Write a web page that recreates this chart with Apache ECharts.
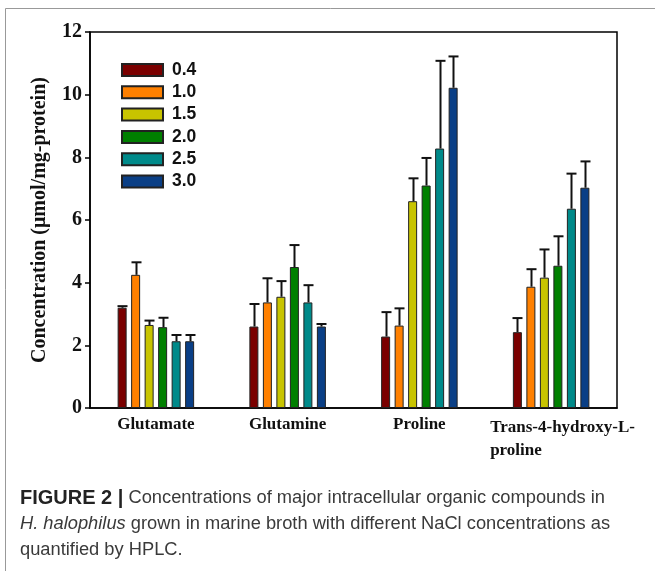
<!DOCTYPE html>
<html>
<head>
<meta charset="utf-8">
<script src="https://cdn.jsdelivr.net/npm/echarts@6/dist/echarts.min.js"></script>
<style>
html,body{margin:0;padding:0;background:#fff;}
#c{width:655px;height:571px;}
</style>
</head>
<body>
<div id="c"></div>
<script>
var categories = ['Glutamate', 'Glutamine', 'Proline', 'Trans-4-hydroxy-L-proline'];
var nacl = ['0.4', '1.0', '1.5', '2.0', '2.5', '3.0'];
var yTicks = [0, 2, 4, 6, 8, 10, 12];

var v04 = [3.20, 2.60, 2.28, 2.42];
var e04 = [0.05, 0.72, 0.78, 0.45];
var v10 = [4.25, 3.37, 2.63, 3.87];
var e10 = [0.40, 0.77, 0.55, 0.56];
var v15 = [2.65, 3.55, 6.60, 4.16];
var e15 = [0.14, 0.50, 0.73, 0.90];
var v20 = [2.58, 4.50, 7.10, 4.54];
var e20 = [0.30, 0.70, 0.88, 0.94];
var v25 = [2.13, 3.37, 8.28, 6.36];
var e25 = [0.20, 0.55, 2.80, 1.12];
var v30 = [2.13, 2.60, 10.22, 7.03];
var e30 = [0.20, 0.08, 1.00, 0.84];

var values = [v04, v10, v15, v20, v25, v30];
var errors = [e04, e10, e15, e20, e25, e30];
var colors = ['#7a0000', '#ff8000', '#c8c400', '#008000', '#008a8a', '#0a3f86'];

var BW = 9, GAP = 0.5;
var step = BW * (1 + GAP);
var total = nacl.length * BW + (nacl.length - 1) * BW * GAP;

var series = [];
nacl.forEach(function (n, i) {
  series.push({
    name: n, type: 'bar', barWidth: BW, barGap: (GAP * 100) + '%',
    data: values[i],
    itemStyle: { color: colors[i], borderColor: '#222', borderWidth: 1 },
    z: 2
  });
});
nacl.forEach(function (n, i) {
  var off = -total / 2 + BW / 2 + i * step;
  series.push({
    name: 'err' + n, type: 'custom', z: 3,
    data: values[i].map(function (v, k) { return [k, v, errors[i][k]]; }),
    renderItem: function (params, api) {
      var k = api.value(0), v = api.value(1), e = api.value(2);
      var p = api.coord([k, v]);
      var t = api.coord([k, v + e]);
      var x = Math.round(p[0] + off) + 0.5;
      var st = { stroke: '#111', lineWidth: 2 };
      return {
        type: 'group',
        children: [
          { type: 'line', shape: { x1: x, y1: p[1], x2: x, y2: t[1] }, style: st },
          { type: 'line', shape: { x1: x - 5, y1: t[1], x2: x + 5, y2: t[1] }, style: st }
        ]
      };
    }
  });
});

var chart = echarts.init(document.getElementById('c'));
chart.setOption({
  animation: false,
  backgroundColor: '#fff',
  grid: { left: 90, right: 38, top: 32, bottom: 163, show: true, borderColor: '#000', borderWidth: 1.5 },
  legend: {
    data: nacl, orient: 'vertical', left: 121, top: 61, padding: 0, icon: 'rect',
    itemWidth: 41, itemHeight: 12, itemGap: 4.3,
    textStyle: { fontFamily: 'Liberation Sans', fontWeight: 'bold', fontSize: 17.5, color: '#111', lineHeight: 17, padding: [0, 0, 0, 4] }
  },
  xAxis: {
    type: 'category', data: categories,
    axisLine: { lineStyle: { color: '#000', width: 1.5 } },
    axisTick: { alignWithLabel: true, length: 5, lineStyle: { color: '#000', width: 1.5 } },
    axisLabel: {
      interval: 0, margin: 8, color: '#111', fontFamily: 'Liberation Serif', fontWeight: 'bold', fontSize: 17,
      formatter: function (v) {
        if (v === 'Trans-4-hydroxy-L-proline') return '{l|Trans-4-hydroxy-L-}\n{l|proline}';
        return v;
      },
      rich: { l: { width: 122, align: 'left', fontFamily: 'Liberation Serif', fontWeight: 'bold', fontSize: 17, color: '#111', lineHeight: 23 } }
    }
  },
  yAxis: {
    type: 'value', min: 0, max: 12, interval: 2,
    name: 'Concentration (μmol/mg-protein)', nameLocation: 'middle', nameGap: 40,
    nameTextStyle: { fontFamily: 'Liberation Serif', fontWeight: 'bold', fontSize: 20, color: '#111' },
    splitLine: { show: false },
    axisLine: { show: true, lineStyle: { color: '#000', width: 1.5 } },
    axisTick: { show: true, length: 5, lineStyle: { color: '#000', width: 1.5 } },
    axisLabel: { margin: 8, color: '#111', fontFamily: 'Liberation Serif', fontWeight: 'bold', fontSize: 20,
      formatter: function (v) { return yTicks.indexOf(v) >= 0 ? String(v) : ''; } }
  },
  graphic: [
    { type: 'line', shape: { x1: 5.5, y1: 8.5, x2: 655, y2: 8.5 }, style: { stroke: '#999', lineWidth: 1 } },
    { type: 'line', shape: { x1: 5.5, y1: 8.5, x2: 5.5, y2: 571 }, style: { stroke: '#999', lineWidth: 1 } },
    {
      type: 'text', left: 20, top: 485,
      style: {
        text: '{b|FIGURE 2 |} Concentrations of major intracellular organic compounds in\n{i|H. halophilus} grown in marine broth with different NaCl concentrations as\nquantified by HPLC.',
        fontFamily: 'Liberation Sans', fontSize: 18.3, lineHeight: 26, fill: '#3a3a3a',
        rich: {
          b: { fontFamily: 'Liberation Sans', fontWeight: 'bold', fontSize: 20, fill: '#222', lineHeight: 26 },
          i: { fontFamily: 'Liberation Sans', fontStyle: 'italic', fontSize: 18.3, fill: '#3a3a3a', lineHeight: 26 }
        }
      }
    }
  ],
  series: series
});
</script>
</body>
</html>
